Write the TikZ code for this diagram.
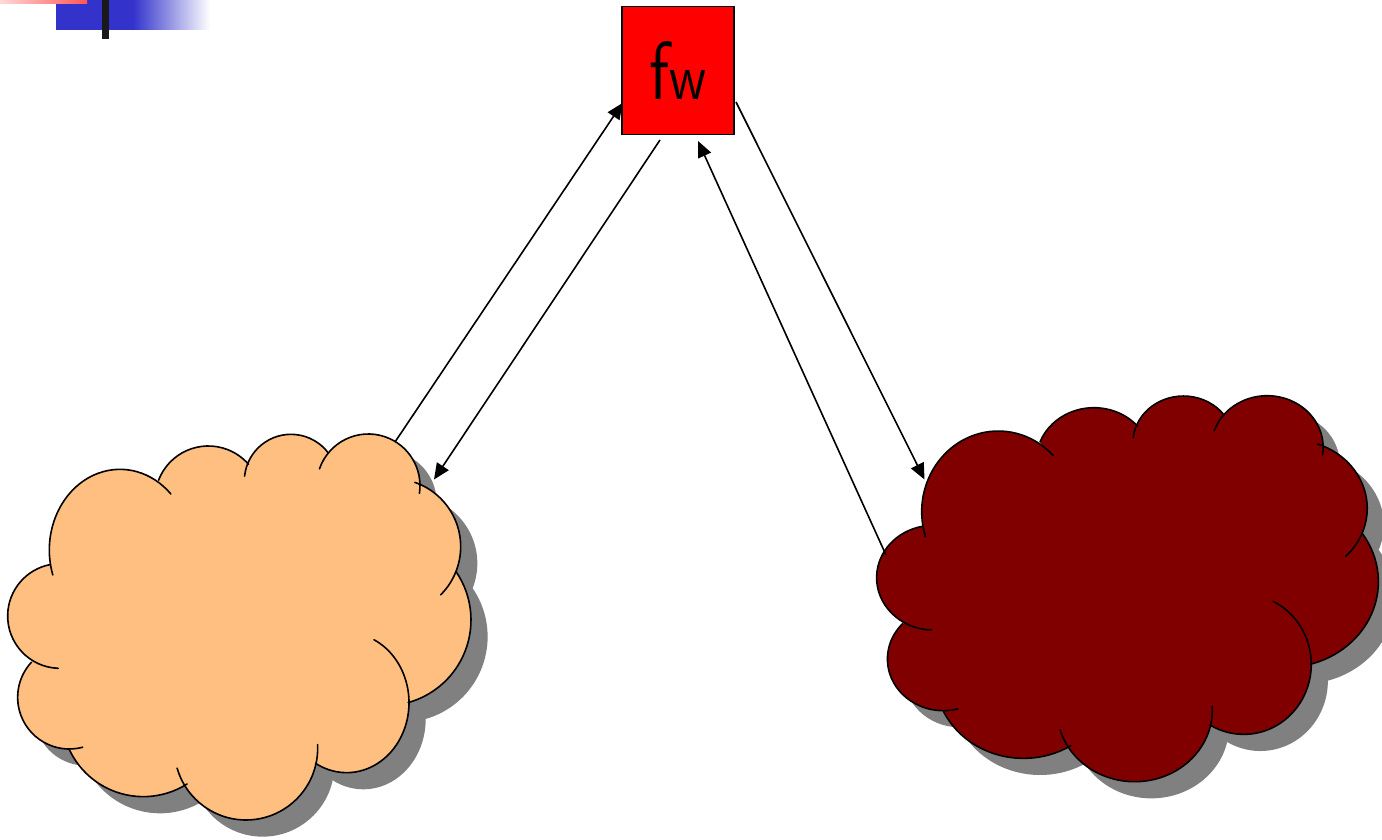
\documentclass[tikz,border=0pt]{standalone}
\usepackage{graphicx}
\usetikzlibrary{arrows.meta}
\definecolor{cloudpeach}{HTML}{FFBF80}
\definecolor{clouddark}{HTML}{800000}
\definecolor{shadowgray}{HTML}{808080}
\definecolor{barblue}{HTML}{3333CC}
\tikzset{
  link/.style={line width=1.6pt,-{Triangle[length=16pt,width=14pt]}},
  lobeline/.style={line width=1.6pt,line cap=round},
  fwbox/.style={draw=black,line width=1.6pt,fill=red,minimum width=112pt,minimum height=128pt,inner sep=0pt}
}
% lobe: centre, start angle, end angle, x radius, y radius
\newcommand\lobe[6]{(#1,#2) ++(#3:#5 and #6) arc[start angle=#3,end angle=#4,x radius=#5,y radius=#6]}
\newcommand\lobeA{\lobe{360}{390}{-198}{-44}{212}{242}}
\newcommand\lobeB{\lobe{625}{238}{-159}{-41}{160}{160}}
\newcommand\lobeC{\lobe{873}{183}{-174}{-36.5}{140}{140}}
\newcommand\lobeD{\lobe{1105}{197}{-161}{8.5}{155}{155}}
\newcommand\lobeE{\lobe{1178}{380}{-71}{45}{204}{204}}
\newcommand\lobeF{\lobe{1156}{600}{-34.5}{74.5}{257}{257}}
\newcommand\lobeG{\lobe{1040}{848}{-64}{120}{187}{210}}
\newcommand\lobeH{\lobe{738}{985}{-3}{164}{215}{215}}
\newcommand\lobeI{\lobe{430}{885}{57.6}{155}{245}{245}}
\newcommand\lobeJ{\lobe{208}{832}{75}{223}{155}{155}}
\newcommand\lobeK{\lobe{180}{588}{92}{259}{157}{157}}
\newcommand\cloudbody{%
  \foreach \L in {\lobeA,\lobeB,\lobeC,\lobeD,\lobeE,\lobeF,\lobeG,\lobeH,\lobeI,\lobeJ,\lobeK}{\fill \L -- (700,600) -- cycle;}
  \fill (300,300) -- (700,160) -- (985,110) -- (1200,250) -- (1250,450) -- (1150,800) -- (700,1000) -- (250,800) -- (150,600) -- cycle;
}
% #1 fill colour, #2 shadow shift in x
\newcommand\cloudshape[2]{%
  \begin{scope}[shift={(#2,50)},shadowgray]\cloudbody\end{scope}
  \begin{scope}[#1]\cloudbody\end{scope}
  \foreach \L in {\lobeA,\lobeB,\lobeC,\lobeD,\lobeE,\lobeF,\lobeG,\lobeH,\lobeI,\lobeJ,\lobeK}{\draw[lobeline] \L;}
}
\begin{document}
\begin{tikzpicture}[x=1pt,y=-1pt]
\useasboundingbox (0,0) rectangle (1382,840);
\clip (0,0) rectangle (1382,840);
% corner decoration
\fill[barblue] (55.5,0) rectangle (134,30);
\shade[left color=barblue,right color=white] (133,0) rectangle (210,30);
\shade[left color=red!15,right color=red!55!pink] (0,0) rectangle (87,4);
\fill[black!90] (102,0) rectangle (108.7,39.3);
% clouds
\begin{scope}[shift={(0,420)},x=0.33333pt,y=-0.33333pt]
  \cloudshape{cloudpeach}{50}
\end{scope}
\begin{scope}[shift={(868.3,381.7)},xscale=1.083,x=0.33333pt,y=-0.33333pt]
  \cloudshape{clouddark}{46}
\end{scope}
% firewall
\node[fwbox] (fw) at (678.2,70.5) {\sffamily\raisebox{-1pt}{\resizebox{20pt}{58pt}{f}\resizebox{37pt}{29pt}{w}}};
% connector ends
\coordinate (lcOut) at (395,442);
\coordinate (lcIn) at (434,479.5);
\coordinate (rcOut) at (886,555);
\coordinate (rcIn) at (924.5,479.5);
\coordinate (fwIn1) at (622.5,103);
\coordinate (fwOut1) at (660,140);
\coordinate (fwIn2) at (698,141);
\coordinate (fwOut2) at (736,102);
\draw[link] (lcOut) -- (fwIn1);
\draw[link] (fwOut1) -- (lcIn);
\draw[link] (rcOut) -- (fwIn2);
\draw[link] (fwOut2) -- (rcIn);
\end{tikzpicture}
\end{document}
